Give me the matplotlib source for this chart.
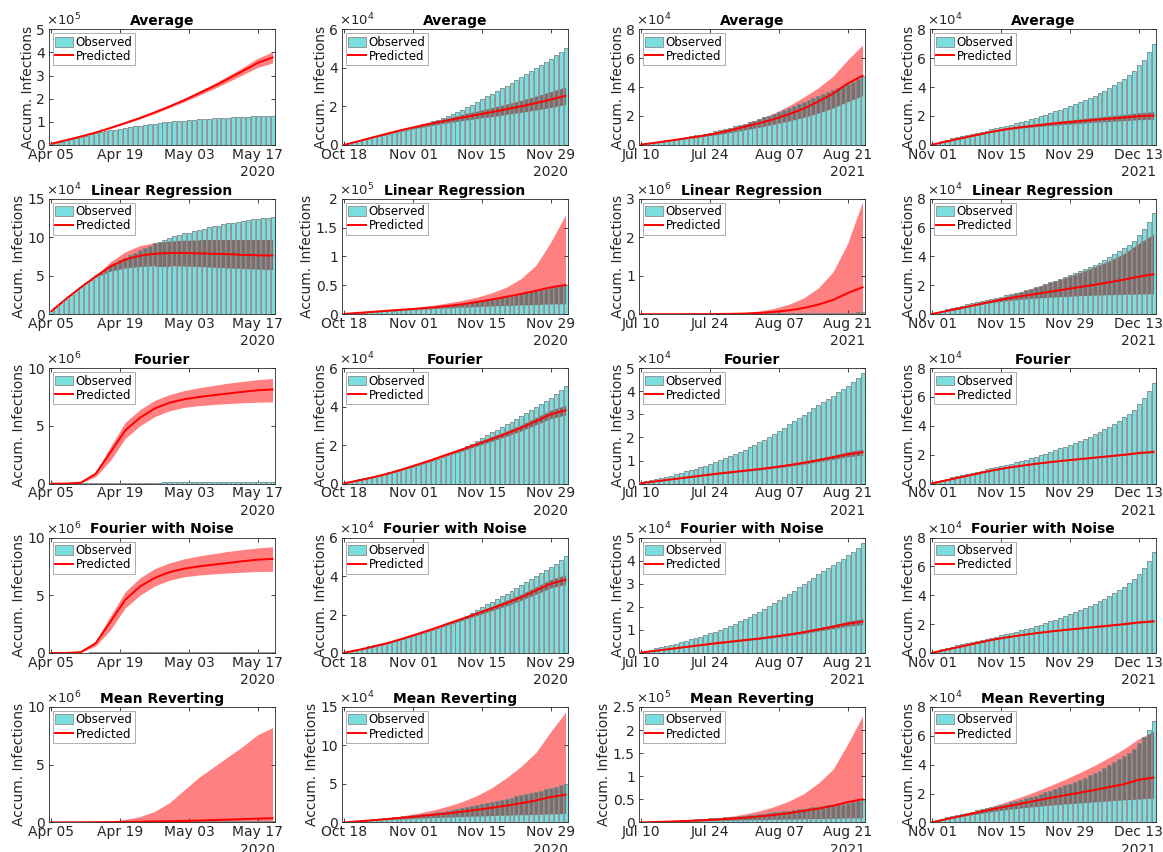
import numpy as np
import matplotlib
matplotlib.use('Agg')
import matplotlib.pyplot as plt
from matplotlib.path import Path
from matplotlib.lines import Line2D
from matplotlib.patches import Patch

plt.rcParams['font.family'] = ['DejaVu Sans']

# ---------------- data ----------------
BAR_DAYS = list(range(46))
KNOT_DAYS = [0, 3, 6, 9, 12, 15, 18, 21, 24, 27, 30, 33, 36, 39, 42, 45]
TICK_DAYS = [0, 14, 28, 42]
COL_TICK_LABELS = [["Apr 05", "Apr 19", "May 03", "May 17"],
                   ["Oct 18", "Nov 01", "Nov 15", "Nov 29"],
                   ["Jul 10", "Jul 24", "Aug 07", "Aug 21"],
                   ["Nov 01", "Nov 15", "Nov 29", "Dec 13"]]
COL_YEARS = ["2020", "2020", "2021", "2021"]
TITLES = ["Average", "Linear Regression", "Fourier", "Fourier with Noise", "Mean Reverting"]

# observed accumulated infections, in units of 1e4
OBS_APR2020 = [0.4, 0.9, 1.4, 2.0, 2.5, 3.0, 3.5, 4.0, 4.5, 4.9, 5.4, 5.8, 6.2, 6.6, 7.0, 7.3,
               7.7, 8.0, 8.3, 8.6, 8.9, 9.2, 9.4, 9.7, 9.9, 10.1, 10.3, 10.5, 10.6, 10.8, 11.0,
               11.1, 11.3, 11.4, 11.5, 11.7, 11.8, 11.9, 12.0, 12.1, 12.2, 12.3, 12.4, 12.5,
               12.55, 12.65]
OBS_OCT2020 = [0.05, 0.1, 0.16, 0.22, 0.28, 0.34, 0.4, 0.46, 0.52, 0.58, 0.64, 0.7, 0.77, 0.84,
               0.91, 0.98, 1.06, 1.14, 1.22, 1.3, 1.39, 1.49, 1.59, 1.7, 1.81, 1.94, 2.08, 2.22,
               2.37, 2.52, 2.66, 2.8, 2.94, 3.08, 3.22, 3.37, 3.52, 3.67, 3.82, 3.98, 4.14, 4.3,
               4.46, 4.64, 4.84, 5.05]
OBS_JUL2021 = [0.05, 0.1, 0.15, 0.2, 0.25, 0.3, 0.35, 0.41, 0.47, 0.53, 0.59, 0.65, 0.71, 0.78,
               0.85, 0.93, 1.01, 1.09, 1.18, 1.27, 1.37, 1.47, 1.57, 1.68, 1.79, 1.9, 2.02, 2.15,
               2.28, 2.42, 2.56, 2.7, 2.84, 2.98, 3.12, 3.26, 3.4, 3.53, 3.67, 3.81, 3.95, 4.09,
               4.23, 4.38, 4.55, 4.78]
OBS_NOV2021 = [0.05, 0.15, 0.25, 0.35, 0.44, 0.52, 0.6, 0.68, 0.75, 0.83, 0.9, 0.98, 1.06, 1.14,
               1.22, 1.3, 1.39, 1.48, 1.57, 1.66, 1.76, 1.86, 1.97, 2.08, 2.2, 2.32, 2.44, 2.56,
               2.69, 2.82, 2.96, 3.1, 3.25, 3.41, 3.58, 3.76, 3.95, 4.15, 4.36, 4.58, 4.82, 5.1,
               5.5, 5.9, 6.4, 7.0]

# panel y units (power of ten), y max and tick step
Y_EXP = [[5, 4, 4, 4], [4, 5, 6, 4], [6, 4, 4, 4], [6, 4, 4, 4], [6, 4, 5, 4]]
Y_MAX = [[5, 6, 8, 8], [15, 2, 3, 8], [10, 6, 5, 8], [10, 6, 5, 8], [10, 15, 2.5, 8]]
Y_STEP = [[1, 2, 2, 2], [5, 0.5, 1, 2], [5, 2, 1, 2], [5, 2, 1, 2], [5, 5, 0.5, 2]]

# predictions (mean, lower, upper) at KNOT_DAYS, in panel y units
AVG_APR_MEAN = [0.05, 0.2, 0.36, 0.53, 0.73, 0.94, 1.16, 1.40, 1.66, 1.93, 2.23, 2.53, 2.86, 3.20, 3.55, 3.78]
AVG_APR_LO = [0.05, 0.195, 0.35, 0.515, 0.71, 0.91, 1.12, 1.35, 1.60, 1.86, 2.14, 2.42, 2.73, 3.04, 3.35, 3.54]
AVG_APR_HI = [0.05, 0.205, 0.37, 0.545, 0.75, 0.97, 1.20, 1.45, 1.72, 2.00, 2.32, 2.64, 2.99, 3.36, 3.75, 4.02]

AVG_OCT_MEAN = [0.0, 0.2, 0.4, 0.6, 0.79, 0.96, 1.12, 1.27, 1.42, 1.56, 1.7, 1.85, 2.0, 2.17, 2.35, 2.55]
AVG_OCT_LO = [0.0, 0.19, 0.38, 0.56, 0.73, 0.88, 1.02, 1.14, 1.26, 1.37, 1.47, 1.58, 1.69, 1.81, 1.94, 2.09]
AVG_OCT_HI = [0.0, 0.21, 0.42, 0.64, 0.85, 1.04, 1.22, 1.40, 1.58, 1.75, 1.93, 2.12, 2.31, 2.53, 2.76, 3.01]

AVG_JUL_MEAN = [0.02, 0.15, 0.3, 0.45, 0.6, 0.78, 1.0, 1.25, 1.5, 1.78, 2.12, 2.5, 3.0, 3.55, 4.25, 4.78]
AVG_JUL_LO = [0.02, 0.14, 0.28, 0.42, 0.55, 0.69, 0.85, 1.03, 1.22, 1.43, 1.65, 1.9, 2.2, 2.55, 3.0, 3.4]
AVG_JUL_HI = [0.02, 0.16, 0.32, 0.48, 0.66, 0.88, 1.14, 1.45, 1.8, 2.2, 2.7, 3.3, 3.95, 4.75, 5.9, 6.9]

AVG_NOV_MEAN = [0.02, 0.24, 0.46, 0.68, 0.9, 1.08, 1.22, 1.34, 1.45, 1.55, 1.64, 1.73, 1.81, 1.89, 1.98, 2.03]
AVG_NOV_LO = [0.02, 0.235, 0.45, 0.66, 0.87, 1.03, 1.15, 1.25, 1.34, 1.42, 1.49, 1.56, 1.62, 1.68, 1.74, 1.77]
AVG_NOV_HI = [0.02, 0.245, 0.47, 0.70, 0.93, 1.13, 1.29, 1.43, 1.56, 1.68, 1.79, 1.90, 2.00, 2.10, 2.22, 2.29]

LR_APR_MEAN = [0.4, 2.0, 3.5, 4.9, 6.2, 7.1, 7.6, 7.85, 7.95, 7.95, 7.9, 7.85, 7.8, 7.7, 7.65, 7.62]
LR_APR_LO = [0.4, 2.0, 3.5, 4.8, 5.6, 6.0, 6.2, 6.3, 6.3, 6.25, 6.2, 6.1, 6.0, 5.95, 5.85, 5.8]
LR_APR_HI = [0.4, 2.0, 3.5, 5.0, 6.8, 8.1, 8.9, 9.3, 9.5, 9.6, 9.65, 9.65, 9.65, 9.65, 9.65, 9.65]

LR_OCT_MEAN = [0.005, 0.024, 0.043, 0.062, 0.08, 0.097, 0.117, 0.142, 0.173, 0.212, 0.255, 0.302, 0.352, 0.406, 0.465, 0.505]
LR_OCT_LO = [0.005, 0.023, 0.04, 0.056, 0.07, 0.084, 0.097, 0.11, 0.122, 0.133, 0.143, 0.152, 0.16, 0.168, 0.176, 0.182]
LR_OCT_HI = [0.005, 0.025, 0.047, 0.07, 0.095, 0.123, 0.156, 0.195, 0.24, 0.295, 0.37, 0.47, 0.62, 0.85, 1.25, 1.72]

LR_JUL_MEAN = [0.0, 0.0005, 0.001, 0.002, 0.003, 0.005, 0.009, 0.017, 0.032, 0.06, 0.1, 0.16, 0.25, 0.37, 0.55, 0.7]
LR_JUL_LO = [0.0, 0.0004, 0.0008, 0.0015, 0.002, 0.003, 0.004, 0.005, 0.006, 0.007, 0.008, 0.009, 0.01, 0.011, 0.012, 0.013]
LR_JUL_HI = [0.0, 0.0005, 0.001, 0.003, 0.006, 0.012, 0.024, 0.045, 0.085, 0.15, 0.26, 0.42, 0.68, 1.1, 1.85, 2.92]

LR_NOV_MEAN = [0.02, 0.23, 0.44, 0.66, 0.88, 1.07, 1.24, 1.4, 1.56, 1.72, 1.88, 2.04, 2.21, 2.4, 2.6, 2.77]
LR_NOV_LO = [0.02, 0.225, 0.42, 0.62, 0.8, 0.93, 1.03, 1.11, 1.18, 1.23, 1.28, 1.32, 1.35, 1.38, 1.4, 1.42]
LR_NOV_HI = [0.02, 0.235, 0.46, 0.7, 0.96, 1.25, 1.55, 1.88, 2.2, 2.53, 2.88, 3.27, 3.7, 4.2, 4.9, 5.55]

FOU_APR_MEAN = [0.0, 0.0, 0.08, 0.85, 2.7, 4.6, 5.7, 6.5, 7.0, 7.3, 7.5, 7.65, 7.8, 7.95, 8.08, 8.15]
FOU_APR_LO = [0.0, 0.0, 0.06, 0.6, 2.0, 3.9, 5.0, 5.8, 6.3, 6.6, 6.75, 6.85, 6.93, 7.0, 7.05, 7.08]
FOU_APR_HI = [0.0, 0.0, 0.1, 1.0, 3.2, 5.3, 6.4, 7.2, 7.7, 8.05, 8.3, 8.5, 8.7, 8.85, 9.0, 9.1]

FOU_OCT_MEAN = [0.02, 0.17, 0.34, 0.53, 0.76, 1.0, 1.25, 1.52, 1.78, 2.05, 2.32, 2.6, 2.9, 3.25, 3.6, 3.81]
FOU_OCT_LO = [0.02, 0.16, 0.32, 0.5, 0.72, 0.95, 1.19, 1.45, 1.7, 1.95, 2.2, 2.46, 2.74, 3.06, 3.38, 3.56]
FOU_OCT_HI = [0.02, 0.18, 0.36, 0.56, 0.8, 1.05, 1.31, 1.59, 1.86, 2.15, 2.44, 2.74, 3.06, 3.44, 3.82, 4.06]

FOU_JUL_MEAN = [0.02, 0.1, 0.18, 0.26, 0.34, 0.42, 0.49, 0.56, 0.63, 0.71, 0.8, 0.9, 1.02, 1.14, 1.27, 1.36]
FOU_JUL_LO = [0.02, 0.095, 0.17, 0.245, 0.32, 0.395, 0.46, 0.525, 0.59, 0.665, 0.75, 0.84, 0.95, 1.05, 1.16, 1.23]
FOU_JUL_HI = [0.02, 0.105, 0.19, 0.275, 0.36, 0.445, 0.52, 0.595, 0.67, 0.755, 0.85, 0.96, 1.09, 1.23, 1.38, 1.49]

FOU_NOV_MEAN = [0.02, 0.24, 0.46, 0.68, 0.9, 1.08, 1.23, 1.37, 1.49, 1.6, 1.7, 1.8, 1.9, 2.0, 2.12, 2.2]
FOU_NOV_LO = [0.02, 0.237, 0.455, 0.672, 0.89, 1.067, 1.214, 1.35, 1.465, 1.57, 1.665, 1.76, 1.855, 1.95, 2.065, 2.14]
FOU_NOV_HI = [0.02, 0.243, 0.465, 0.688, 0.91, 1.093, 1.246, 1.39, 1.515, 1.63, 1.735, 1.84, 1.945, 2.05, 2.175, 2.26]

FN_APR_MEAN = [0.0, 0.0, 0.08, 0.85, 2.7, 4.6, 5.75, 6.5, 7.0, 7.3, 7.5, 7.65, 7.8, 7.95, 8.08, 8.15]
FN_APR_LO = [0.0, 0.0, 0.06, 0.6, 2.0, 3.9, 5.0, 5.8, 6.3, 6.6, 6.75, 6.85, 6.93, 7.0, 7.05, 7.08]
FN_APR_HI = [0.0, 0.0, 0.1, 1.0, 3.2, 5.3, 6.5, 7.3, 7.8, 8.15, 8.4, 8.6, 8.8, 8.95, 9.1, 9.2]

FN_OCT_MEAN = [0.02, 0.17, 0.34, 0.53, 0.76, 1.0, 1.25, 1.52, 1.78, 2.05, 2.32, 2.6, 2.9, 3.25, 3.6, 3.81]
FN_OCT_LO = [0.02, 0.16, 0.32, 0.5, 0.72, 0.95, 1.19, 1.45, 1.7, 1.95, 2.2, 2.46, 2.74, 3.06, 3.38, 3.56]
FN_OCT_HI = [0.02, 0.18, 0.36, 0.56, 0.8, 1.05, 1.31, 1.59, 1.86, 2.15, 2.44, 2.74, 3.06, 3.44, 3.82, 4.06]

FN_JUL_MEAN = [0.02, 0.1, 0.18, 0.26, 0.34, 0.42, 0.49, 0.56, 0.63, 0.71, 0.8, 0.9, 1.02, 1.14, 1.27, 1.36]
FN_JUL_LO = [0.02, 0.095, 0.17, 0.245, 0.32, 0.395, 0.46, 0.525, 0.59, 0.665, 0.75, 0.84, 0.95, 1.05, 1.16, 1.23]
FN_JUL_HI = [0.02, 0.105, 0.19, 0.275, 0.36, 0.445, 0.52, 0.595, 0.67, 0.755, 0.85, 0.96, 1.09, 1.23, 1.38, 1.49]

FN_NOV_MEAN = [0.02, 0.24, 0.46, 0.68, 0.9, 1.08, 1.23, 1.37, 1.49, 1.6, 1.7, 1.8, 1.9, 2.0, 2.12, 2.2]
FN_NOV_LO = [0.02, 0.237, 0.455, 0.672, 0.89, 1.067, 1.214, 1.35, 1.465, 1.57, 1.665, 1.76, 1.855, 1.95, 2.065, 2.14]
FN_NOV_HI = [0.02, 0.243, 0.465, 0.688, 0.91, 1.093, 1.246, 1.39, 1.515, 1.63, 1.735, 1.84, 1.945, 2.05, 2.175, 2.26]

MR_APR_MEAN = [0.0, 0.005, 0.01, 0.02, 0.03, 0.045, 0.06, 0.08, 0.1, 0.13, 0.16, 0.2, 0.24, 0.28, 0.33, 0.36]
MR_APR_LO = [0.0, 0.004, 0.008, 0.012, 0.016, 0.02, 0.024, 0.028, 0.032, 0.036, 0.04, 0.044, 0.048, 0.052, 0.056, 0.06]
MR_APR_HI = [0.0, 0.01, 0.03, 0.06, 0.12, 0.25, 0.5, 0.95, 1.7, 2.8, 3.9, 4.8, 5.7, 6.6, 7.6, 8.2]

MR_OCT_MEAN = [0.0, 0.15, 0.3, 0.46, 0.62, 0.8, 0.98, 1.18, 1.4, 1.64, 1.9, 2.18, 2.5, 2.85, 3.3, 3.6]
MR_OCT_LO = [0.0, 0.13, 0.25, 0.36, 0.46, 0.55, 0.63, 0.7, 0.77, 0.83, 0.89, 0.95, 1.0, 1.05, 1.1, 1.15]
MR_OCT_HI = [0.0, 0.17, 0.36, 0.6, 0.88, 1.2, 1.6, 2.1, 2.7, 3.5, 4.5, 5.8, 7.3, 9.1, 11.8, 14.3]

MR_JUL_MEAN = [0.0, 0.01, 0.02, 0.03, 0.045, 0.06, 0.08, 0.1, 0.13, 0.16, 0.2, 0.25, 0.3, 0.36, 0.44, 0.5]
MR_JUL_LO = [0.0, 0.008, 0.016, 0.024, 0.032, 0.04, 0.048, 0.055, 0.062, 0.068, 0.074, 0.08, 0.085, 0.09, 0.095, 0.1]
MR_JUL_HI = [0.0, 0.012, 0.025, 0.04, 0.06, 0.09, 0.13, 0.18, 0.25, 0.34, 0.46, 0.62, 0.85, 1.15, 1.7, 2.3]

MR_NOV_MEAN = [0.02, 0.24, 0.46, 0.68, 0.9, 1.1, 1.3, 1.5, 1.7, 1.88, 2.06, 2.25, 2.45, 2.65, 2.95, 3.1]
MR_NOV_LO = [0.02, 0.22, 0.41, 0.58, 0.74, 0.88, 1.0, 1.1, 1.2, 1.28, 1.35, 1.42, 1.5, 1.56, 1.62, 1.68]
MR_NOV_HI = [0.02, 0.26, 0.52, 0.8, 1.1, 1.42, 1.77, 2.14, 2.55, 2.98, 3.45, 3.95, 4.5, 5.1, 5.8, 6.3]

OBSERVED = [OBS_APR2020, OBS_OCT2020, OBS_JUL2021, OBS_NOV2021]
PRED = [
    [(AVG_APR_MEAN, AVG_APR_LO, AVG_APR_HI), (AVG_OCT_MEAN, AVG_OCT_LO, AVG_OCT_HI),
     (AVG_JUL_MEAN, AVG_JUL_LO, AVG_JUL_HI), (AVG_NOV_MEAN, AVG_NOV_LO, AVG_NOV_HI)],
    [(LR_APR_MEAN, LR_APR_LO, LR_APR_HI), (LR_OCT_MEAN, LR_OCT_LO, LR_OCT_HI),
     (LR_JUL_MEAN, LR_JUL_LO, LR_JUL_HI), (LR_NOV_MEAN, LR_NOV_LO, LR_NOV_HI)],
    [(FOU_APR_MEAN, FOU_APR_LO, FOU_APR_HI), (FOU_OCT_MEAN, FOU_OCT_LO, FOU_OCT_HI),
     (FOU_JUL_MEAN, FOU_JUL_LO, FOU_JUL_HI), (FOU_NOV_MEAN, FOU_NOV_LO, FOU_NOV_HI)],
    [(FN_APR_MEAN, FN_APR_LO, FN_APR_HI), (FN_OCT_MEAN, FN_OCT_LO, FN_OCT_HI),
     (FN_JUL_MEAN, FN_JUL_LO, FN_JUL_HI), (FN_NOV_MEAN, FN_NOV_LO, FN_NOV_HI)],
    [(MR_APR_MEAN, MR_APR_LO, MR_APR_HI), (MR_OCT_MEAN, MR_OCT_LO, MR_OCT_HI),
     (MR_JUL_MEAN, MR_JUL_LO, MR_JUL_HI), (MR_NOV_MEAN, MR_NOV_LO, MR_NOV_HI)],
]

# ---------------- style ----------------
CYAN = np.array([0.48, 0.87, 0.87])
BAND = np.array([1.0, 0.5, 0.5])
OVERLAP = CYAN * BAND
EDGE = '#8a8a8a'
AXC = '#262626'

W, H = 1163, 852
fig = plt.figure(figsize=(W / 100, H / 100), dpi=100)

COL_LEFT = [49, 342, 639, 930]
COL_W = 226
ROW_TOP0 = 29.3
ROW_PITCH = 169.4
AX_H = 115.5

for r in range(5):
    for c in range(4):
        top = ROW_TOP0 + r * ROW_PITCH
        ax = fig.add_axes([COL_LEFT[c] / W, 1 - (top + AX_H) / H, COL_W / W, AX_H / H])
        exp = Y_EXP[r][c]
        obs = np.array(OBSERVED[c]) * 1e4 / 10 ** exp
        mean, lo, hi = PRED[r][c]

        ax.fill_between(KNOT_DAYS, lo, hi, color=BAND, lw=0, zorder=1)
        bars = ax.bar(BAR_DAYS, obs, width=0.8, color=CYAN, edgecolor='none', zorder=2)
        rects = [p.get_path().transformed(p.get_patch_transform()) for p in bars.patches]
        clip = Path.make_compound_path(*rects)
        ov = ax.fill_between(KNOT_DAYS, lo, hi, color=OVERLAP, lw=0, zorder=3)
        ov.set_clip_path(clip, ax.transData)
        ax.bar(BAR_DAYS, obs, width=0.8, facecolor='none', edgecolor=EDGE, lw=0.6, zorder=4)
        ax.plot(KNOT_DAYS, mean, color='red', lw=1.4, zorder=5)

        ax.set_xlim(-0.5, 45.5)
        ax.set_ylim(0, Y_MAX[r][c])
        ticks = np.arange(0, Y_MAX[r][c] + 1e-9, Y_STEP[r][c])
        ax.set_yticks(ticks)
        ax.set_yticklabels(['%g' % t for t in ticks])
        ax.set_xticks(TICK_DAYS)
        ax.set_xticklabels(COL_TICK_LABELS[c])
        ax.tick_params(direction='in', length=3, width=0.6, colors=AXC, labelsize=10,
                       top=True, right=True)
        ax.tick_params(axis='x', pad=2)
        ax.tick_params(axis='y', pad=3)
        for s in ax.spines.values():
            s.set_color(AXC)
            s.set_linewidth(0.6)
        ax.set_ylabel('Accum. Infections', fontsize=10, color=AXC, labelpad=1)
        ax.set_title(TITLES[r], fontsize=10, fontweight='bold', pad=3)
        ax.text(-0.015, 1.005, r'$\times10^{%d}$' % exp, transform=ax.transAxes,
                ha='left', va='bottom', fontsize=9.5, color=AXC)
        ax.text(1.0, -0.175, COL_YEARS[c], transform=ax.transAxes, ha='right', va='top',
                fontsize=10, color=AXC)
        handles = [Patch(facecolor=CYAN, edgecolor=EDGE, lw=0.6),
                   Line2D([], [], color='red', lw=1.4)]
        leg = ax.legend(handles, ['Observed', 'Predicted'], loc='upper left', fontsize=8.5,
                        frameon=True, fancybox=False, edgecolor='#a0a0a0', framealpha=1,
                        borderpad=0.2, handlelength=1.5, handleheight=0.9, handletextpad=0.2,
                        labelspacing=0.1, borderaxespad=0.35)
        leg.get_frame().set_linewidth(0.6)
        leg.set_zorder(10)

fig.savefig('out.png', dpi=100)
